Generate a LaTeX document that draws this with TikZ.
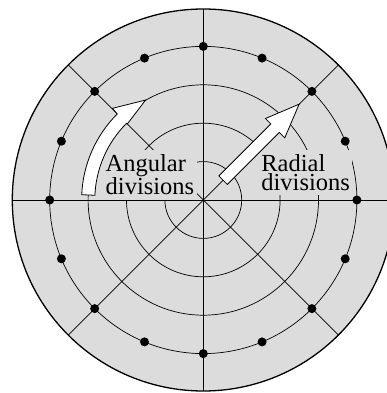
\documentclass[tikz,border=0pt]{standalone}
\usepackage{fontspec}
\setmainfont{Liberation Serif}
\usetikzlibrary{positioning}
\definecolor{DiscGray}{HTML}{DCDCDC}

\begin{document}
\begin{tikzpicture}[x=1pt,y=1pt,
 ring/.style={draw=black,line width=0.7pt},
 rim/.style={draw=black,line width=1.3pt},
 sample/.style={fill=black},
 caption/.style={fill=DiscGray,align=left,inner xsep=2.5pt,inner ysep=4.5pt,
              font=\fontsize{24.5}{18.5}\selectfont},
 hollow/.style={draw=black,fill=white,line width=0.8pt,line join=miter}]
\useasboundingbox (-203.3,-193) rectangle (183.7,200);
\coordinate (hub) at (0,0);
\fill[DiscGray] (hub) circle[radius=191pt];
\foreach \r in {38.4,76.8,115.2,153.6}
  \draw[ring] (hub) circle[radius=\r pt];
\foreach \a in {0,45,90,135}
  \draw[ring] (\a:191) -- ({\a+180}:191);
\draw[rim] (hub) circle[radius=191pt];
\foreach \a in {0,22.5,...,337.5}
  \fill[sample] (\a:153.6) circle[radius=4.5pt];
% labels
\node[caption,anchor=north west] (angtext) at (-100.3,50) {Angular\\divisions};
\node[caption,anchor=north west] (radtext) at (55.4,50) {Radial\\divisions};
% arrows
\filldraw[hollow] (177.5:108.5) -- (177.5:121.7)
  arc[start angle=177.5,end angle=135,radius=121.7pt] -- (134.7:129)
  -- (120:115.4) -- (135:107.5) -- (135:108.5)
  arc[start angle=135,end angle=177.5,radius=108.5pt] -- cycle;
\filldraw[hollow,rotate=45] (28,-6) -- (101.5,-6) -- (101.5,-13.7) -- (135.5,0)
  -- (101.5,13.7) -- (101.5,6) -- (28,6) -- cycle;
\end{tikzpicture}
\end{document}
